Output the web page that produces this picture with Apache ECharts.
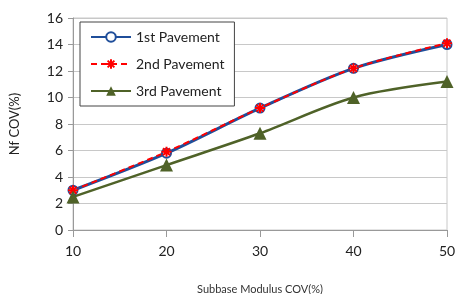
<!DOCTYPE html>
<html>
<head>
<meta charset="utf-8">
<script src="https://cdn.jsdelivr.net/npm/echarts@6/dist/echarts.min.js"></script>
<style>
  html, body { margin: 0; padding: 0; background: #fff; }
  #chart { width: 461px; height: 294px; }
</style>
</head>
<body>
<div id="chart"></div>
<script>
const xValues = [10, 20, 30, 40, 50];
const pavement1 = [3.0, 5.8, 9.2, 12.2, 14.0];
const pavement2 = [3.0, 5.9, 9.2, 12.2, 14.1];
const pavement3 = [2.5, 4.9, 7.3, 10.0, 11.2];
const seriesNames = ['1st Pavement', '2nd Pavement', '3rd Pavement'];

const toPoints = (vals) => vals.map((v, i) => [xValues[i], v]);
const asterisk = 'path://M0,5 L10,5 M5,0 L5,10 M1.5,1.5 L8.5,8.5 M8.5,1.5 L1.5,8.5';
const font = 'Lato, "Open Sans", sans-serif';

const chart = echarts.init(document.getElementById('chart'));

const option = {
  animation: false,
  textStyle: { fontFamily: font },
  grid: {
    left: 73, right: 14, top: 18, bottom: 64,
    outerBoundsMode: 'none',
    show: true, borderColor: '#c8c8c8', borderWidth: 1
  },
  legend: {
    orient: 'vertical',
    left: 80,
    top: 22,
    padding: [8, 10, 8, 10],
    itemWidth: 40,
    itemHeight: 12,
    itemGap: 13,
    borderColor: '#444',
    borderWidth: 1,
    backgroundColor: '#fff',
    textStyle: { fontSize: 14, color: '#222', fontFamily: font },
    data: seriesNames
  },
  xAxis: {
    type: 'value',
    min: 10,
    max: 50,
    interval: 10,
    name: 'Subbase Modulus COV(%)',
    nameLocation: 'middle',
    nameGap: 54,
    nameTextStyle: { fontSize: 11, color: '#333' },
    axisLine: { show: true, lineStyle: { color: '#999' } },
    axisTick: { show: true, length: 7, lineStyle: { color: '#999' } },
    axisLabel: { fontSize: 14, color: '#222', margin: 14 },
    splitLine: { show: false }
  },
  yAxis: {
    type: 'value',
    min: 0,
    max: 16,
    interval: 2,
    name: 'Nf COV(%)',
    nameLocation: 'middle',
    nameGap: 52,
    nameTextStyle: { fontSize: 13, color: '#222' },
    axisLine: { show: true, lineStyle: { color: '#999' } },
    axisTick: { show: true, length: 5, lineStyle: { color: '#999' } },
    axisLabel: { fontSize: 14, color: '#222', margin: 10 },
    splitLine: { show: true, lineStyle: { color: '#c8c8c8' } }
  },
  series: [
    {
      name: seriesNames[0],
      type: 'line',
      smooth: 0.3,
      data: toPoints(pavement1),
      symbol: 'emptyCircle',
      symbolSize: 9,
      lineStyle: { color: '#1f4e9a', width: 3 },
      itemStyle: { color: '#1f4e9a', borderColor: '#1f4e9a', borderWidth: 2 }
    },
    {
      name: seriesNames[1],
      type: 'line',
      smooth: 0.3,
      data: toPoints(pavement2),
      symbol: asterisk,
      symbolSize: 10,
      lineStyle: { color: '#ff0000', width: 2, type: [6, 4] },
      itemStyle: { color: '#ff0000', borderColor: '#ff0000', borderWidth: 2 }
    },
    {
      name: seriesNames[2],
      type: 'line',
      smooth: 0.3,
      data: toPoints(pavement3),
      symbol: 'triangle',
      symbolSize: 13,
      lineStyle: { color: '#4f6228', width: 2.5 },
      itemStyle: { color: '#4f6228' }
    }
  ]
};

chart.setOption(option);
</script>
</body>
</html>
